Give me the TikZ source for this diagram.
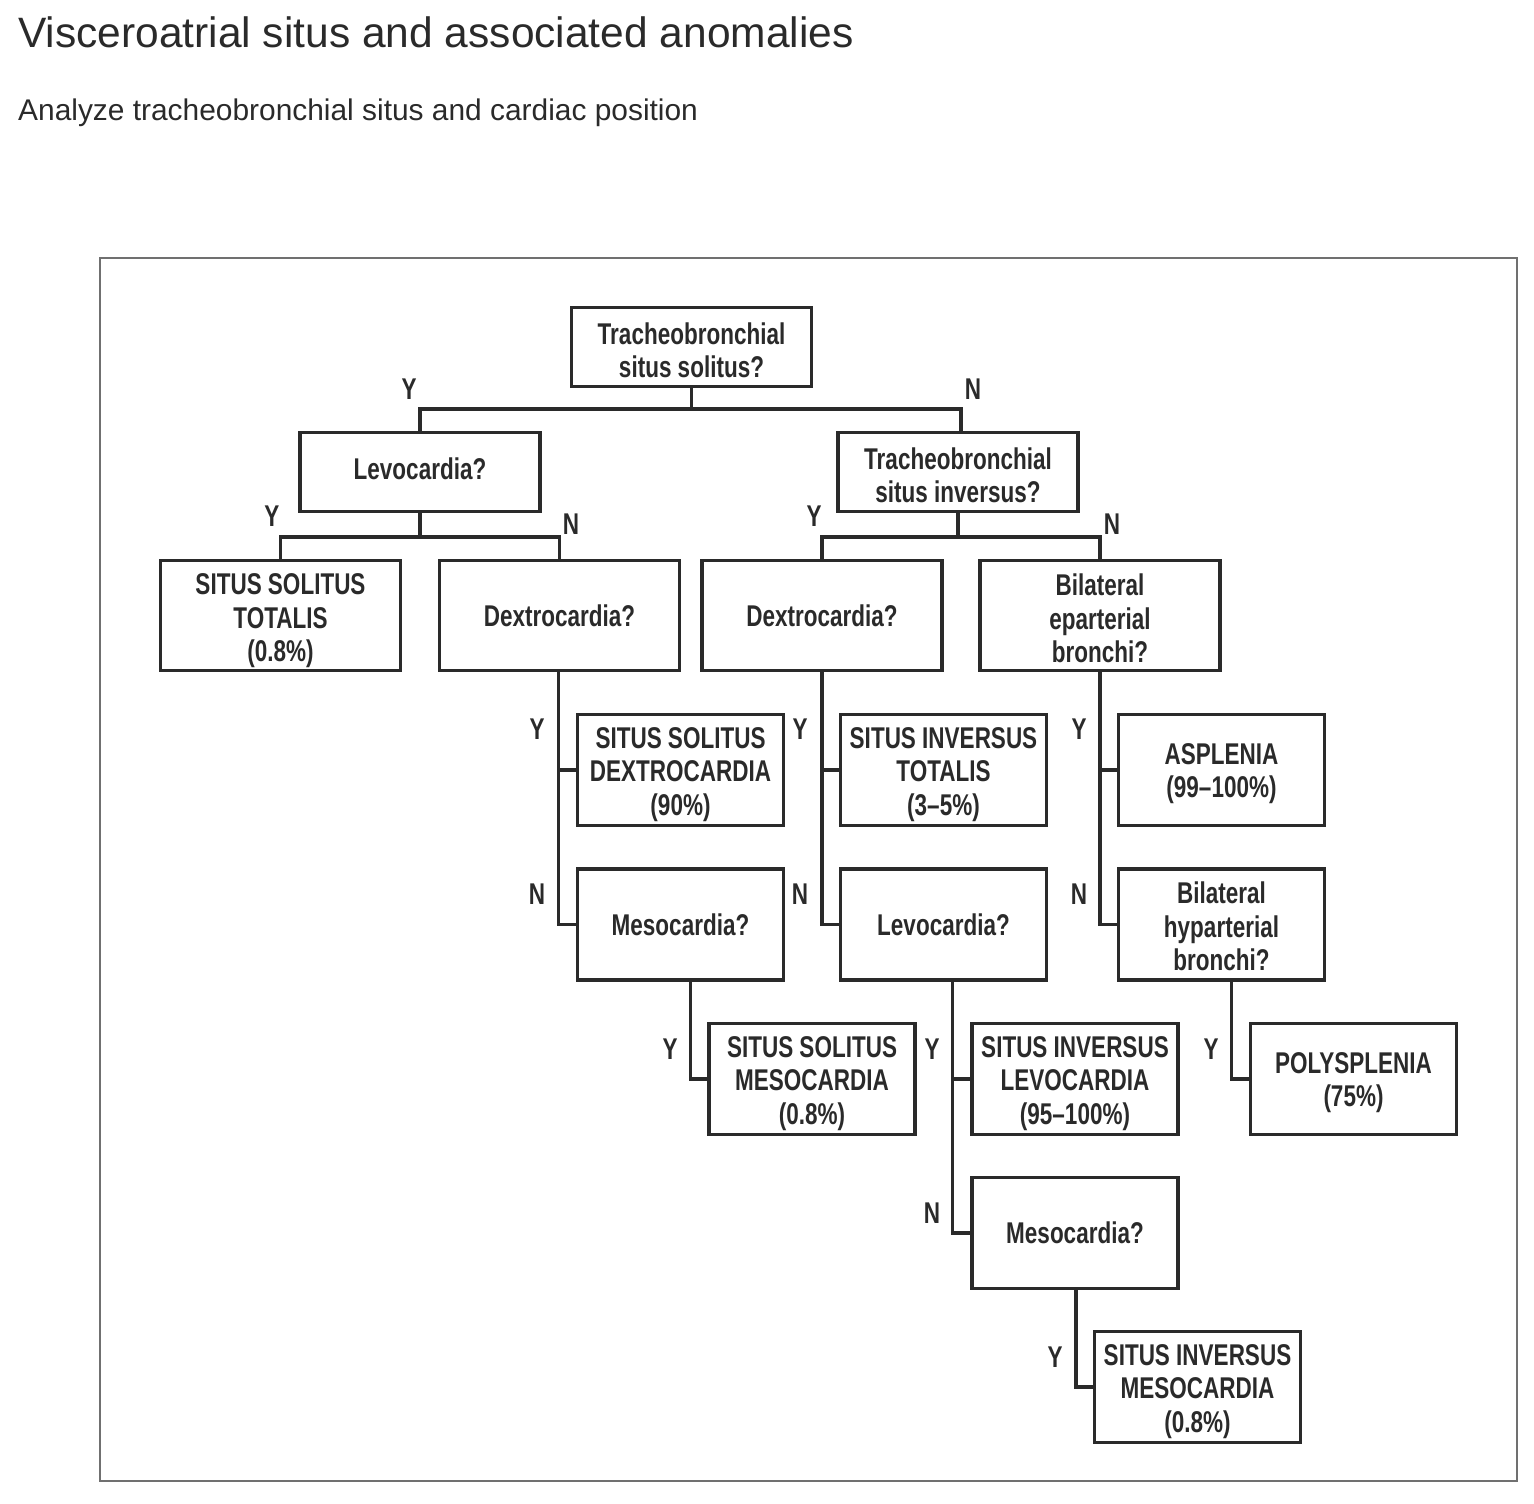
\documentclass[tikz,border=0pt]{standalone}
\usepackage{fontspec}
\setmainfont{Liberation Sans}
\newfontfamily\boxfont{Liberation Sans}[FakeStretch=0.75,Ligatures=TeX]
\definecolor{ink}{HTML}{2A2A2A}
\definecolor{frame}{HTML}{707070}
\newcommand\dn[1]{\rule{0pt}{\dimexpr 22pt+2\dimexpr #1pt\relax\relax}}
\newcommand\up[1]{\rule[-2\dimexpr #1pt\relax]{0pt}{0pt}}
\begin{document}
\begin{tikzpicture}[x=1pt,y=-1pt,
  box/.style={draw=ink,line width=3.6pt,rectangle,align=center,inner sep=0pt,text=ink,
    font=\boxfont\bfseries\fontsize{30}{33.5}\selectfont},
  wide/.style={box,minimum width=240pt,minimum height=79pt},
  tall/.style={box,minimum width=240pt,minimum height=110pt},
  small/.style={box,minimum width=206pt,minimum height=111pt},
  conn/.style={draw=ink,line width=3.6pt},
  lab/.style={text=ink,inner sep=0pt,font=\boxfont\bfseries\fontsize{30}{34}\selectfont}]
\useasboundingbox (0,0) rectangle (1534,1504);
\node[anchor=base west,inner sep=0pt,text=ink,font=\fontsize{42.5}{50}\selectfont] (title) at (18,48) {Visceroatrial situs and associated anomalies};
\node[anchor=base west,inner sep=0pt,text=ink,font=\fontsize{29.9}{35}\selectfont] (sub) at (18,121) {Analyze tracheobronchial situs and cardiac position};
\draw[frame,line width=2pt] (100,258) rectangle (1517,1481);

\node[wide] (root) at (691.5,347) {\dn{3}Tracheobronchial\\situs solitus?};
\node[wide] (levo1) at (420,472) {\up{3}Levocardia?};
\node[wide] (tsi) at (958,472) {\dn{3}Tracheobronchial\\situs inversus?};
\node[tall] (sst) at (280.5,615.5) {\dn{5}SITUS SOLITUS\\TOTALIS\\(0.8\%)};
\node[tall] (dex1) at (559.5,615.5) {Dextrocardia?};
\node[tall] (dex2) at (822,615.5) {Dextrocardia?};
\node[tall] (bil) at (1100,615.5) {\dn{3}Bilateral\\eparterial\\bronchi?};
\node[small] (ssd) at (680.5,770) {\dn{4}SITUS SOLITUS\\DEXTROCARDIA\\(90\%)};
\node[small] (sit) at (943.5,770) {\dn{4}SITUS INVERSUS\\TOTALIS\\(3–5\%)};
\node[small] (asp) at (1221.5,770) {\dn{3}ASPLENIA\\(99–100\%)};
\node[small] (meso1) at (680.5,924.5) {Mesocardia?};
\node[small] (levo2) at (943.5,924.5) {Levocardia?};
\node[small] (hyp) at (1221.5,924.5) {\dn{2}Bilateral\\hyparterial\\bronchi?};
\node[small] (ssm) at (812,1079) {\dn{4}SITUS SOLITUS\\MESOCARDIA\\(0.8\%)};
\node[small] (sil) at (1075,1079) {\dn{4}SITUS INVERSUS\\LEVOCARDIA\\(95–100\%)};
\node[small] (poly) at (1353.5,1079) {\dn{3}POLYSPLENIA\\(75\%)};
\node[small] (meso2) at (1075,1233) {Mesocardia?};
\node[small] (sim) at (1197.5,1387) {\dn{4}SITUS INVERSUS\\MESOCARDIA\\(0.8\%)};

% tree connectors
\coordinate (j1) at (691.5,409);
\draw[conn] (root.south) -- (j1);
\draw[conn] (levo1.north) |- (j1) -| ([xshift=3pt]tsi.north);
\coordinate (j2) at (420,537);
\draw[conn] (levo1.south) -- (j2);
\draw[conn] (sst.north) |- (j2) -| (dex1.north);
\coordinate (j3) at (958,537);
\draw[conn] (tsi.south) -- (j3);
\draw[conn] (dex2.north) |- (j3) -| (bil.north);

\draw[conn] ([xshift=-1pt]dex1.south) |- (meso1.west);
\draw[conn] ([xshift=-1pt]dex1.south |- ssd.west) -- (ssd.west);
\draw[conn] (dex2.south) |- (levo2.west);
\draw[conn] (dex2.south |- sit.west) -- (sit.west);
\draw[conn] (bil.south) |- (hyp.west);
\draw[conn] (bil.south |- asp.west) -- (asp.west);

\draw[conn] ([xshift=10pt]meso1.south) |- (ssm.west);
\draw[conn] ([xshift=9pt]levo2.south) |- (meso2.west);
\draw[conn] ([xshift=9pt]levo2.south |- sil.west) -- (sil.west);
\draw[conn] ([xshift=10pt]hyp.south) |- (poly.west);
\draw[conn] ([xshift=1pt]meso2.south) |- (sim.west);

% labels
\node[lab] (l1) at (409,389) {Y};
\node[lab] (l2) at (973,389) {N};
\node[lab] (l3) at (272,516) {Y};
\node[lab] (l4) at (571,524) {N};
\node[lab] (l5) at (814,516) {Y};
\node[lab] (l6) at (1112,524) {N};
\node[lab] (l7) at (537,729) {Y};
\node[lab] (l8) at (537,894) {N};
\node[lab] (l9) at (800,729) {Y};
\node[lab] (l10) at (800,894) {N};
\node[lab] (l11) at (1079,729) {Y};
\node[lab] (l12) at (1079,894) {N};
\node[lab] (l13) at (670,1049) {Y};
\node[lab] (l14) at (932,1049) {Y};
\node[lab] (l15) at (932,1213) {N};
\node[lab] (l16) at (1211,1049) {Y};
\node[lab] (l17) at (1055,1357) {Y};
\end{tikzpicture}
\end{document}
